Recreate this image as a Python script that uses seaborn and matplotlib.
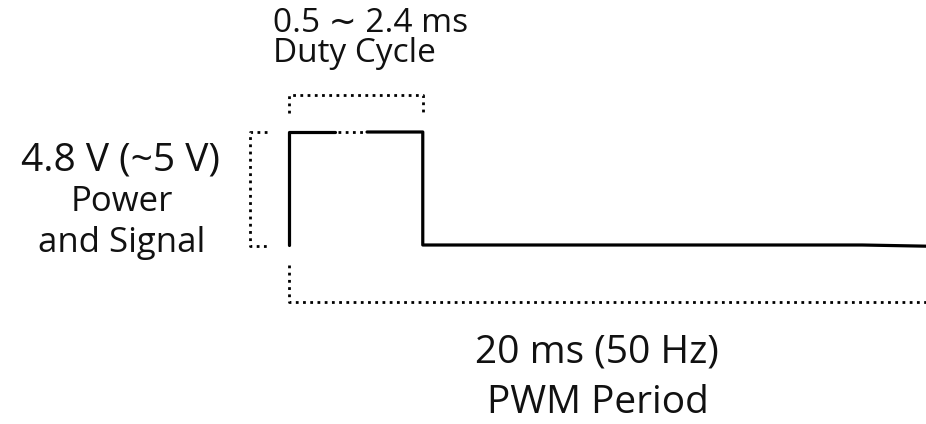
import pandas as pd
import seaborn as sns
import matplotlib.pyplot as plt

# Servo PWM timing sketch (schematic, not drawn to scale)
# time in ms, level in volts
period_ms = 20.0
pulse_ms = 4.2            # drawn width of the high pulse
high_v = 4.8
low_v = 0.0
gap_start, gap_end = 1.45, 2.45   # break in the top of the pulse ("...")

wave_t = [0.0, 0.0, gap_start, gap_end, pulse_ms, pulse_ms, 18.0, period_ms]
wave_v = [low_v, high_v, high_v, high_v, high_v, low_v, low_v, -0.05]
wave_seg = [0, 0, 0, 1, 1, 1, 1, 1]

# bracket levels (same units)
duty_top, duty_leg = 6.37, 5.61
volt_x, volt_tick = -1.22, -0.69
period_y, period_leg = -2.42, -0.85

sns.set_theme(style="white")
plt.rcParams['font.family'] = ['Open Sans', 'DejaVu Sans']

fig = plt.figure(figsize=(9.26, 4.24), dpi=100)
ax = fig.add_axes([0, 0, 1, 1])

df = pd.DataFrame({'t': wave_t, 'v': wave_v, 'seg': wave_seg})
sns.lineplot(data=df, x='t', y='v', units='seg', estimator=None, sort=False,
             color='black', lw=2.3, ax=ax)

dots = dict(color='black', lw=2.0, linestyle=(0, (1, 1.6)), dash_capstyle='butt')
# dotted bit inside the pulse top
ax.plot([gap_start + 0.1, gap_end - 0.1], [high_v, high_v], **dots)
# duty-cycle bracket
ax.plot([0, 0, pulse_ms, pulse_ms], [duty_leg, duty_top, duty_top, duty_leg], **dots)
# voltage bracket
ax.plot([volt_tick, volt_x, volt_x, volt_tick], [high_v, high_v, low_v - 0.04, low_v - 0.04], **dots)
# period bracket
ax.plot([0, 0, period_ms], [period_leg, period_y, period_y], **dots)

# map the drawing onto the 926x424 canvas
px_ms = (926 - 289) / period_ms
px_v = (245 - 132) / high_v
ax.set_xlim(-289 / px_ms, period_ms)
ax.set_ylim(-(424 - 245) / px_v, 245 / px_v)
ax.set_axis_off()


def label(x, y, s, size, ha='center', **kw):
    fig.text(x / 926, 1 - y / 424, s, ha=ha, va='baseline',
             fontsize=size, color='#111111', **kw)


# two-line label: y is the baseline of the last line
label(273, 62, "0.5 \u223c 2.4 ms\nDuty Cycle", 24, ha='left',
      multialignment='left', linespacing=0.9)
label(120, 171, "4.8 V (~5 V)", 28)
label(122, 211, "Power", 25)
label(122, 252, "and Signal", 25)
label(597, 362, "20 ms (50 Hz)", 28)
label(598, 413, "PWM Period", 28)

fig.savefig('out.png', dpi=100)
